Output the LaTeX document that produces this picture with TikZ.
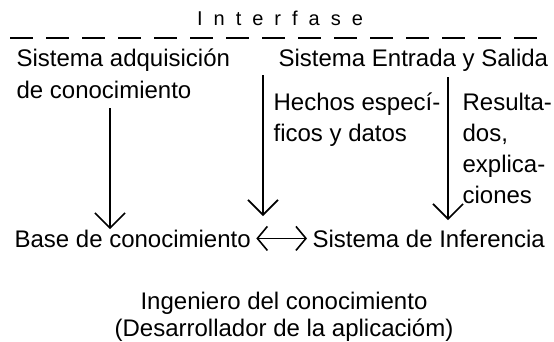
\documentclass[tikz,border=0pt]{standalone}
\usepackage{fontspec}
\setmainfont{Liberation Sans}
\usetikzlibrary{arrows.meta}

\tikzset{every picture/.style={line width=1.2pt}}
\tikzset{
  txt/.style={inner sep=0pt, font=\fontsize{24}{31}\selectfont, align=left},
  downarr/.style={-{Straight Barb[length=15pt,width=30pt,line width=1.6pt]}},
  twoarr/.style={{Straight Barb[length=10pt,width=24pt,line width=1.6pt]}-{Straight Barb[length=10pt,width=24pt,line width=1.6pt]}},
}

\begin{document}
\begin{tikzpicture}[x=1pt,y=1pt,yscale=-1]
\useasboundingbox (0,0) rectangle (554,341);
% Text Node
\node (interfase) [anchor=base, inner sep=0pt, font=\fontsize{20}{22}\selectfont\addfontfeature{LetterSpace=55}] at (280,25) {Interfase};
%Dashed Line
\coordinate (dl) at (10,38);
\coordinate (dr) at (546,38);
\draw [dash pattern=on 23pt off 13pt, line width=1.5pt] (dl) -- (dr);
% Text Node (base = last line)
\node (acq) [txt, anchor=base west, font=\fontsize{24}{32}\selectfont] at (16,98) {Sistema adquisición\\de conocimiento};
% Text Node
\node (io) [txt, anchor=base west] at (278,66) {Sistema Entrada y Salida};
% Text Node
\node (hechos) [txt, anchor=base west] at (273,141) {Hechos especí-\\ficos y datos};
% Text Node
\node (result) [txt, anchor=base west] at (462,203) {Resulta-\\dos,\\explica-\\ciones};
% Text Node
\node (base) [txt, anchor=base west] at (14,247) {Base de conocimiento};
% Text Node
\node (infer) [txt, anchor=base west] at (312,247) {Sistema de Inferencia};
% Text Node
\node (ing) [txt, anchor=base, align=center, font=\fontsize{24}{27}\selectfont] at (284,336) {Ingeniero del conocimiento\\(Desarrollador de la aplicacióm)};
%Straight Lines
\coordinate (a1) at (110,108);
\draw [downarr] (a1) -- (a1 |- base.north);
%Straight Lines
\coordinate (a2) at (263,75);
\coordinate (t2) at (263,216);
\draw [downarr] (a2) -- (t2);
%Straight Lines
\coordinate (a3) at (448,77);
\coordinate (t3) at (448,220);
\draw [downarr] (a3) -- (t3);
%Straight Lines
\draw [twoarr] ([xshift=5pt]base.east) -- ([xshift=-5pt]infer.west);
\end{tikzpicture}
\end{document}
